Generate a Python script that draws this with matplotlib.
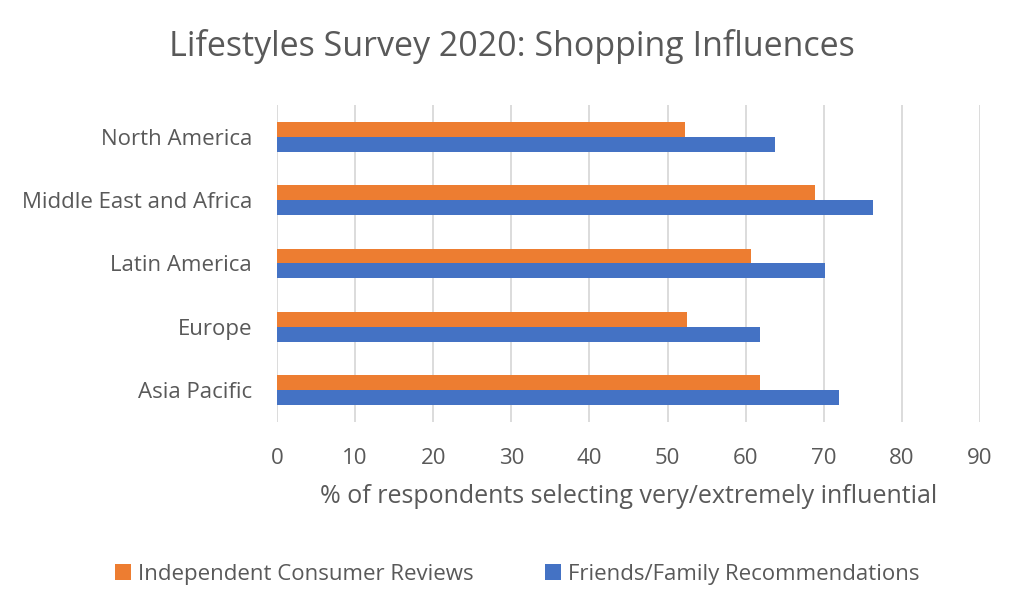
import matplotlib.pyplot as plt
import numpy as np

# Data (bottom-to-top order as drawn)
regions = ["Asia Pacific", "Europe", "Latin America", "Middle East and Africa", "North America"]
reviews = [61.9, 52.5, 60.7, 68.9, 52.3]
friends = [71.9, 61.9, 70.1, 76.3, 63.7]

orange = "#ED7D31"
blue = "#4472C4"
grey = "#595959"

plt.rcParams['font.family'] = ['Open Sans', 'DejaVu Sans']

fig = plt.figure(figsize=(10.24, 6.14), dpi=100)
ax = fig.add_axes([0.2705, 0.313, 0.6865, 0.516])

y = np.arange(len(regions))
h = 0.235
ax.barh(y + h / 2, reviews, height=h, color=orange, label="Independent Consumer Reviews", zorder=3)
ax.barh(y - h / 2, friends, height=h, color=blue, label="Friends/Family Recommendations", zorder=3)

ax.set_xlim(0, 90)
ax.set_ylim(-0.5, len(regions) - 0.5)
ax.set_xticks(range(0, 91, 10))
ax.set_yticks(y)
ax.set_yticklabels(regions)
ax.grid(axis='x', color='#D9D9D9', linewidth=1.3, zorder=0)
for s in ax.spines.values():
    s.set_visible(False)
ax.tick_params(axis='y', length=0, pad=18, labelsize=16, labelcolor=grey)
ax.tick_params(axis='x', length=0, pad=19, labelsize=16, labelcolor=grey)
ax.set_xlabel("% of respondents selecting very/extremely influential", fontsize=18, color=grey, labelpad=11)

fig.text(0.5, 1 - 47 / 614, "Lifestyles Survey 2020: Shopping Influences", fontsize=24.5, color=grey,
         ha='center', va='center')

fig.legend(loc='center', bbox_to_anchor=(0.505, 0.065), ncol=2, frameon=False, fontsize=16,
           labelcolor=grey, handlelength=0.75, handleheight=0.75, columnspacing=3.2, handletextpad=0.3)

fig.savefig("out.png", dpi=100)
